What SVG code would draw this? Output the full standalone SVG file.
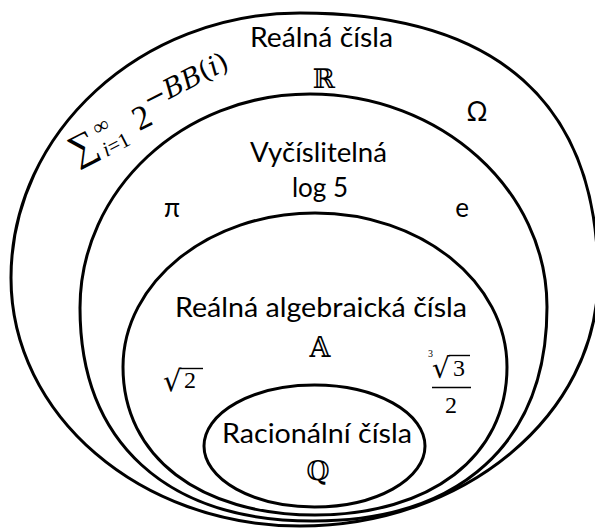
<svg xmlns="http://www.w3.org/2000/svg" width="595" height="529" viewBox="0 0 595 529">
<style>
.set{fill:none;stroke:#000;stroke-width:3}
.lbl{font-family:Lato,"Open Sans",sans-serif;font-size:26px;fill:#000;text-anchor:middle}
.bb{font-family:"DejaVu Serif",serif;fill:#000;text-anchor:middle}
.m{font-family:"Liberation Serif",serif;fill:#000}
.d{font-family:"DejaVu Serif",serif;fill:#000}
.it{font-style:italic}
</style>
<rect width="595" height="529" fill="#fff"/>
<g id="real">
<path class="set" d="M11,278 C11,132 141,13 300,13 C497,13 598,103 598,278 C598,415 464,526 300,526 C140,526 11,415 11,278 Z"/>
<text class="lbl" x="321.5" y="47" textLength="143" lengthAdjust="spacingAndGlyphs">Reálná čísla</text>
<text class="bb" x="324" y="88" font-size="27">ℝ</text>
<text class="lbl" x="477" y="121" font-size="27">Ω</text>
<g transform="translate(77,163) rotate(-27)">
<text class="m" x="-1" y="0" font-size="38">∑</text>
<text class="m" x="29" y="8" font-size="21"><tspan class="it">i</tspan>=1</text>
<text class="m" x="30" y="-15" font-size="22">∞</text>
<text class="m" x="70" y="0" font-size="34">2</text>
<text class="d" x="88" y="-15" font-size="27">−<tspan class="it">BB</tspan>(<tspan class="it">i</tspan>)</text>
</g>
</g>
<g id="computable">
<path class="set" d="M80,308 C80,190 183,94 310,94 C441,94 547,190 547,307 C547,442 461,521 313,521 C166,521 80,442 80,308 Z"/>
<text class="lbl" x="318.5" y="162" textLength="137" lengthAdjust="spacingAndGlyphs">Vyčíslitelná</text>
<text class="lbl" x="320" y="197">log 5</text>
<text class="lbl" x="172" y="217">π</text>
<text class="lbl" x="462" y="217">e</text>
</g>
<g id="algebraic">
<path class="set" d="M123,367 C123,282 209,213 315,213 C421,213 507,282 507,367 C507,457 430,515 315,515 C200,515 123,457 123,367 Z"/>
<text class="lbl" x="321" y="317" textLength="292" lengthAdjust="spacingAndGlyphs">Reálná algebraická čísla</text>
<text class="bb" x="320" y="357" font-size="27">𝔸</text>
<text class="d" x="163" y="391" font-size="29">√</text>
<line x1="180" y1="368.5" x2="203" y2="368.5" stroke="#000" stroke-width="1.4"/>
<text class="m" x="184" y="388" font-size="24">2</text>
<text class="m" x="428" y="357" font-size="10">3</text>
<text class="d" x="432" y="378" font-size="28">√</text>
<line x1="449" y1="355.5" x2="470" y2="355.5" stroke="#000" stroke-width="1.4"/>
<text class="m" x="453" y="376" font-size="24">3</text>
<line x1="432" y1="387.5" x2="471" y2="387.5" stroke="#000" stroke-width="1.4"/>
<text class="m" x="451" y="413" font-size="24" text-anchor="middle">2</text>
</g>
<g id="rational">
<ellipse class="set" cx="314.5" cy="446" rx="110.5" ry="61"/>
<text class="lbl" x="317" y="443" textLength="190" lengthAdjust="spacingAndGlyphs">Racionální čísla</text>
<text class="bb" x="318" y="480" font-size="27">ℚ</text>
</g>
<g id="connectors"/>
</svg>
